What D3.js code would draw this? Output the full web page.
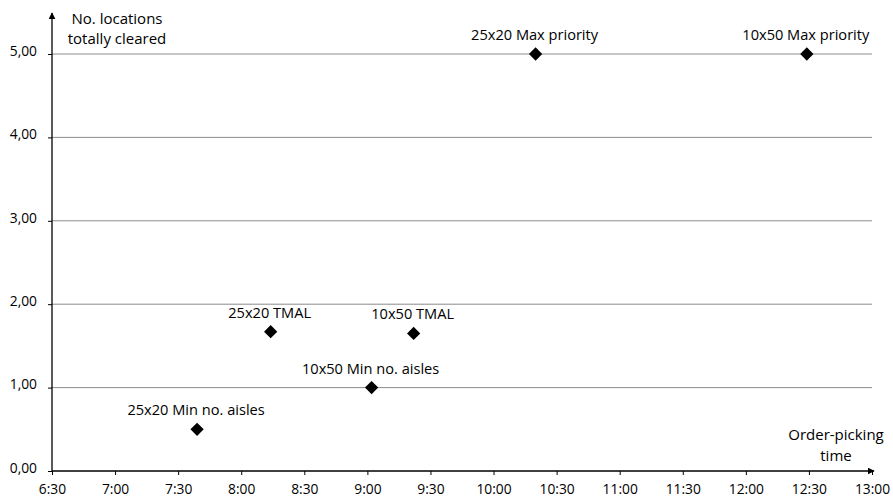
<!DOCTYPE html>
<html>
<head>
<meta charset="utf-8">
<script src="https://cdn.jsdelivr.net/npm/d3@7"></script>
<style>
  body { margin: 0; background: #fff; }
  svg text { font-family: "Open Sans", "Noto Sans", sans-serif; fill: #000; }
</style>
</head>
<body>
<svg id="chart" width="893" height="502"></svg>
<script>
// Data
const labels = [
  "25x20 Min no. aisles",
  "25x20 TMAL",
  "10x50 Min no. aisles",
  "10x50 TMAL",
  "25x20 Max priority",
  "10x50 Max priority",
];
const times = ["7:39", "8:14", "9:02", "9:22", "10:20", "12:29"];
const values = [0.5, 1.67, 1.0, 1.65, 5, 5];
const yTicks = [0, 1, 2, 3, 4, 5];
const xStart = "6:30";
const xEnd = "13:00";

const parseTime = d3.timeParse("%H:%M");
const fmtTime = d3.timeFormat("%-H:%M");
const fmtVal = (d) => d3.format(".2f")(d).replace(".", ",");

const svg = d3.select("#chart");
const width = 893;
const height = 502;
const margin = { top: 54, right: 21, bottom: 31, left: 52 };

// Scales
const x = d3
  .scaleTime()
  .domain([parseTime(xStart), parseTime(xEnd)])
  .range([margin.left, width - margin.right]);
const y = d3
  .scaleLinear()
  .domain([0, 5])
  .range([height - margin.bottom, margin.top]);

// Gridlines
svg
  .append("g")
  .selectAll("line")
  .data(yTicks.filter((d) => d > 0))
  .join("line")
  .attr("x1", x.range()[0])
  .attr("x2", x.range()[1])
  .attr("y1", (d) => y(d))
  .attr("y2", (d) => y(d))
  .attr("stroke", "#8c8c8c")
  .attr("stroke-width", 1);

// Arrow head
svg
  .append("defs")
  .append("marker")
  .attr("id", "arrow")
  .attr("viewBox", "0 0 10 10")
  .attr("refX", 9)
  .attr("refY", 5)
  .attr("markerWidth", 7)
  .attr("markerHeight", 7)
  .attr("markerUnits", "userSpaceOnUse")
  .attr("orient", "auto")
  .append("path")
  .attr("d", "M0,0L10,5L0,10Z")
  .attr("fill", "#000");

// Axes
const xAxis = d3
  .axisBottom(x)
  .ticks(d3.timeMinute.every(30))
  .tickFormat(fmtTime)
  .tickSize(4)
  .tickPadding(9);
const yAxis = d3
  .axisLeft(y)
  .tickValues(yTicks)
  .tickFormat(fmtVal)
  .tickSize(4)
  .tickPadding(11);

const gx = svg
  .append("g")
  .attr("transform", `translate(0,${y(0)})`)
  .call(xAxis);
gx.select(".domain").remove();
gx.selectAll("text").attr("font-size", 13.8);
gx.append("line")
  .attr("x1", x.range()[0])
  .attr("x2", x.range()[1] + 2)
  .attr("stroke", "#000")
  .attr("stroke-width", 1.3)
  .attr("marker-end", "url(#arrow)");

const gy = svg
  .append("g")
  .attr("transform", `translate(${margin.left},0)`)
  .call(yAxis);
gy.select(".domain").remove();
gy.selectAll("text").attr("font-size", 13.8).attr("dy", "0.1em");
gy.append("line")
  .attr("y1", y(0))
  .attr("y2", 13)
  .attr("stroke", "#000")
  .attr("stroke-width", 1.3)
  .attr("marker-end", "url(#arrow)");

// Axis titles
svg
  .append("text")
  .attr("x", 117)
  .attr("y", 24)
  .attr("text-anchor", "middle")
  .attr("font-size", 15)
  .selectAll("tspan")
  .data(["No. locations", "totally cleared"])
  .join("tspan")
  .attr("x", 117)
  .attr("dy", (d, i) => (i ? 20 : 0))
  .text((d) => d);

svg
  .append("text")
  .attr("x", 836)
  .attr("y", 440)
  .attr("text-anchor", "middle")
  .attr("font-size", 15)
  .selectAll("tspan")
  .data(["Order-picking", "time"])
  .join("tspan")
  .attr("x", 836)
  .attr("dy", (d, i) => (i ? 21 : 0))
  .text((d) => d);

// Points
const points = labels.map((label, i) => ({
  label,
  t: parseTime(times[i]),
  v: values[i],
}));

const symbol = d3.symbol().type(d3.symbolSquare).size(88);

svg
  .append("g")
  .selectAll("path")
  .data(points)
  .join("path")
  .attr("d", symbol)
  .attr("transform", (d) => `translate(${x(d.t)},${y(d.v)}) rotate(45)`)
  .attr("fill", "#000");

svg
  .append("g")
  .selectAll("text")
  .data(points)
  .join("text")
  .attr("x", (d) => x(d.t) - 1)
  .attr("y", (d) => y(d.v) - 14)
  .attr("text-anchor", "middle")
  .attr("font-size", 14.6)
  .text((d) => d.label);
</script>
</body>
</html>
